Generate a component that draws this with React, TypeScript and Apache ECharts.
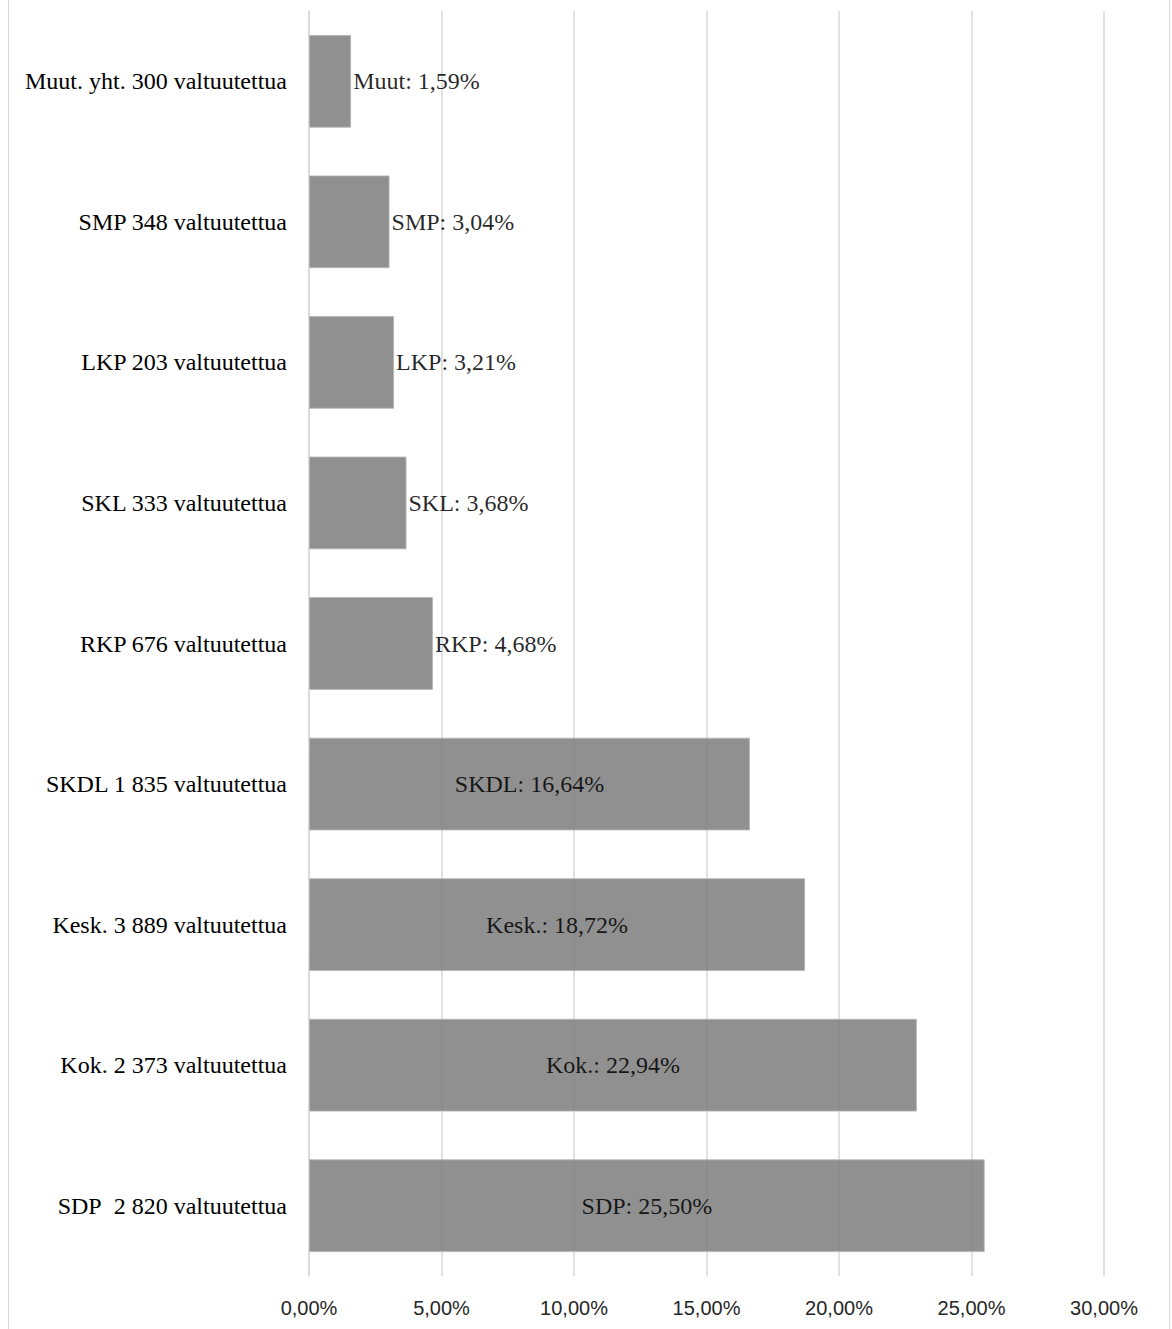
import React, { useEffect, useRef } from "react";
import * as echarts from "echarts";

const categories = [
  "Muut. yht. 300 valtuutettua",
  "SMP 348 valtuutettua",
  "LKP 203 valtuutettua",
  "SKL 333 valtuutettua",
  "RKP 676 valtuutettua",
  "SKDL 1 835 valtuutettua",
  "Kesk. 3 889 valtuutettua",
  "Kok. 2 373 valtuutettua",
  "SDP\u00a0 2 820 valtuutettua",
];
const shortNames = ["Muut", "SMP", "LKP", "SKL", "RKP", "SKDL", "Kesk.", "Kok.", "SDP"];
const values = [1.59, 3.04, 3.21, 3.68, 4.68, 16.64, 18.72, 22.94, 25.5];
const labelInside = [false, false, false, false, false, true, true, true, true];

const fmt = (v: number) => v.toFixed(2).replace(".", ",") + "%";

export default function App() {
  const ref = useRef<HTMLDivElement>(null);
  useEffect(() => {
    if (!ref.current) return;
    const chart = echarts.init(ref.current, undefined, { renderer: "svg" });
    chart.setOption({
      animation: false,
      backgroundColor: "#ffffff",
      grid: { left: 300, right: 65, top: 11, bottom: 53, containLabel: false },
      xAxis: {
        type: "value",
        min: 0,
        max: 30,
        interval: 5,
        axisLine: { show: false },
        axisTick: { show: false },
        splitLine: { show: true, lineStyle: { color: "#d9d9d9", width: 1.5 } },
        axisLabel: {
          margin: 22,
          fontFamily: "Liberation Sans",
          fontSize: 20,
          color: "#262626",
          formatter: (v: number) => fmt(v),
        },
      },
      yAxis: {
        type: "category",
        inverse: true,
        data: categories,
        axisLine: { show: true, lineStyle: { color: "#d9d9d9", width: 1.5 } },
        axisTick: { show: false },
        axisLabel: {
          margin: 22,
          fontFamily: "Liberation Serif",
          fontSize: 24,
          color: "#000000",
        },
      },
      series: [
        {
          type: "bar",
          barCategoryGap: "34%",
          data: values.map((v, i) => ({
            value: v,
            label: labelInside[i]
              ? { position: "inside" }
              : { position: "right", distance: 2 },
          })),
          itemStyle: {
            color: "#7c7c7c",
            opacity: 0.85,
            borderColor: "#b5b5b5",
            borderWidth: 1,
          },
          label: {
            show: true,
            fontFamily: "Liberation Serif",
            fontSize: 24,
            color: "#000000",
            formatter: (p: any) => shortNames[p.dataIndex] + ": " + fmt(p.value),
          },
        },
      ],
    });
    return () => chart.dispose();
  }, []);
  return (
    <div
      style={{
        position: "absolute",
        left: 8,
        top: 0,
        width: 1160,
        height: 1329,
        borderLeft: "1.5px solid #d9d9d9",
        borderRight: "1.5px solid #d9d9d9",
      }}
    >
      <div ref={ref} style={{ width: 1160, height: 1329 }} />
    </div>
  );
}
